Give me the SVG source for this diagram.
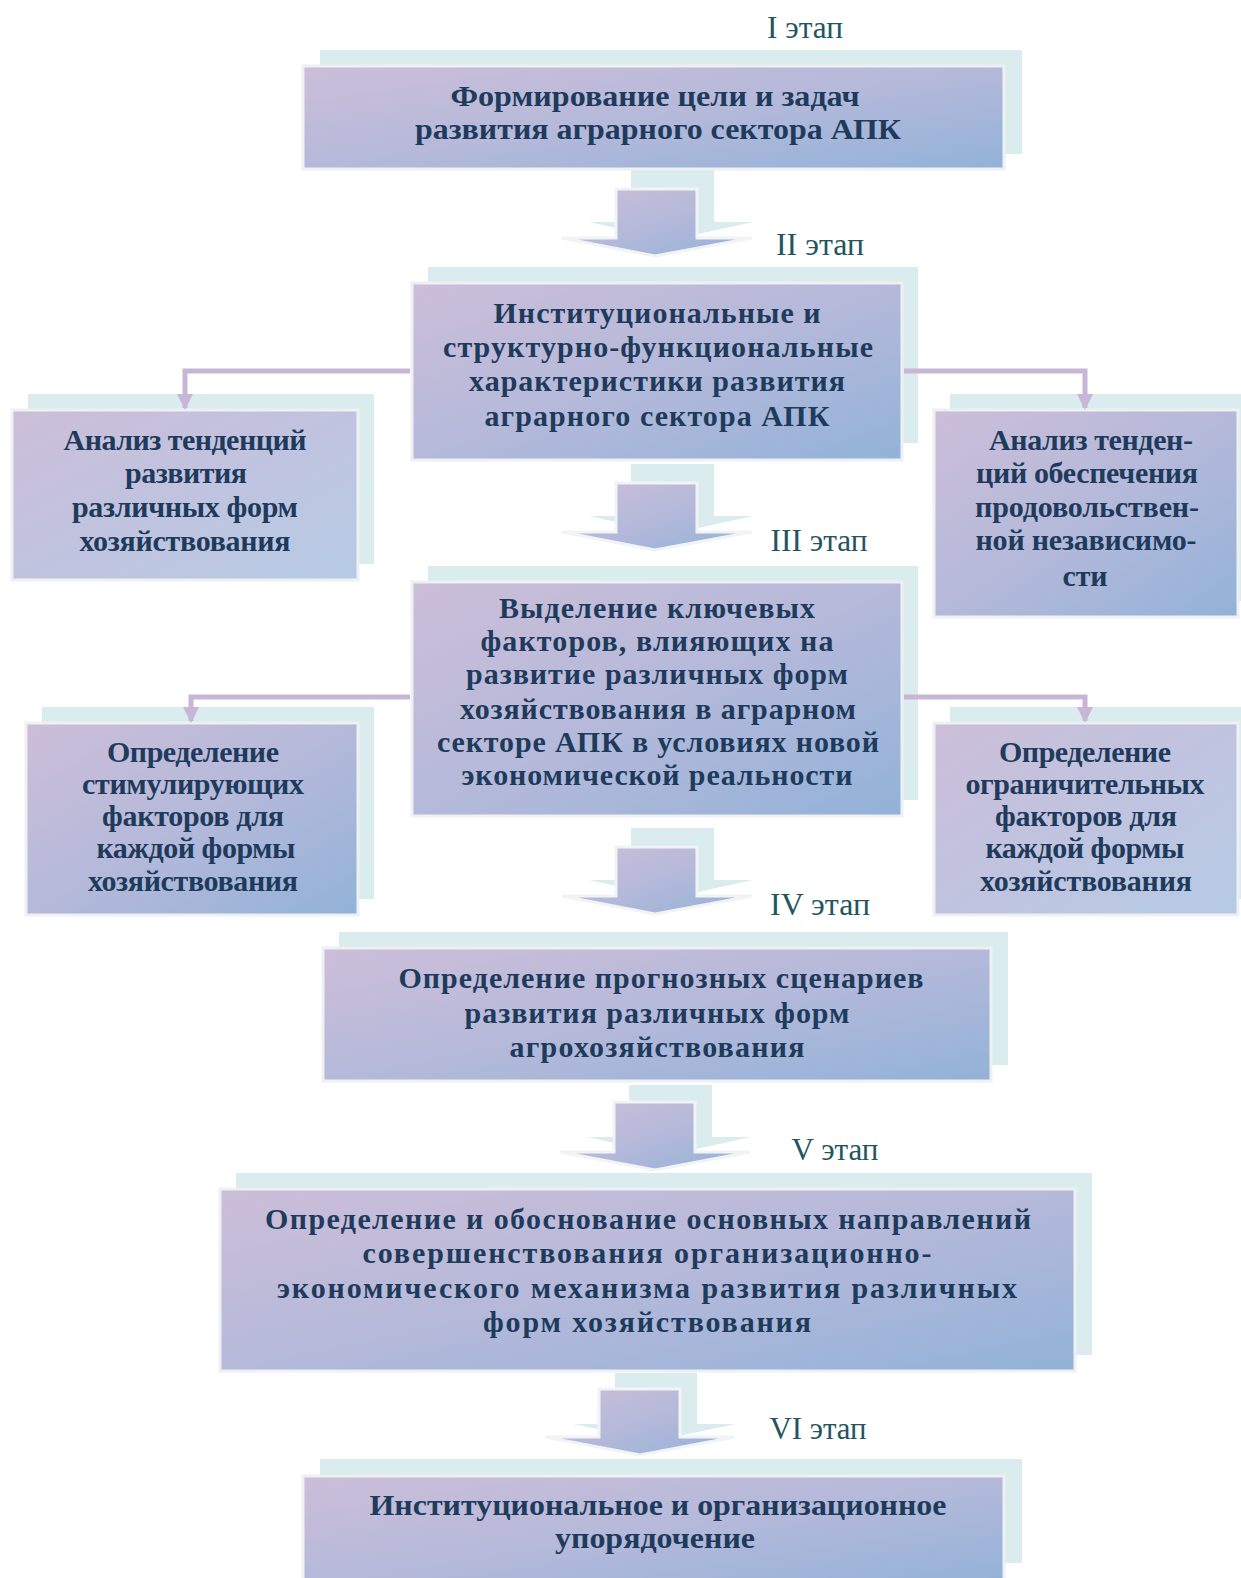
<svg xmlns="http://www.w3.org/2000/svg" width="1241" height="1578" viewBox="0 0 1241 1578">
<defs>
<linearGradient id="g" x1="0" y1="0" x2="1" y2="1">
<stop offset="0" stop-color="#ccbed9"/>
<stop offset="0.5" stop-color="#b5b9da"/>
<stop offset="1" stop-color="#92b2d8"/>
</linearGradient>
<linearGradient id="g2" x1="0" y1="0" x2="1" y2="1">
<stop offset="0" stop-color="#ccbed9"/>
<stop offset="0.5" stop-color="#c0c3df"/>
<stop offset="1" stop-color="#b6cbe4"/>
</linearGradient>
<marker id="ah" markerWidth="16" markerHeight="16" refX="14" refY="8" orient="auto" markerUnits="userSpaceOnUse" viewBox="0 0 16 16">
<path d="M0,0 L16,8 L0,16 Z" fill="#c8b6d6"/>
</marker>
</defs>
<style>
.sh{fill:#dbecef}
.bx{fill:url(#g);stroke:#eef0f2;stroke-width:3}
.bx2{fill:url(#g2);stroke:#eef0f2;stroke-width:3}
.ar{fill:url(#g);stroke:#f2f3f5;stroke-width:3;stroke-linejoin:miter}
.t{font-family:"Liberation Serif","Times New Roman",serif;font-weight:bold;font-size:30px;fill:#1f3b5c;text-anchor:middle}
.st{font-family:"Liberation Serif","Times New Roman",serif;font-size:32px;fill:#23555f;text-anchor:middle}
.cn{fill:none;stroke:#c8b6d6;stroke-width:5}
</style>

<g id="labels">
<text class="st" x="805" y="38" textLength="76" lengthAdjust="spacingAndGlyphs">I этап</text>
<text class="st" x="820" y="255" textLength="88" lengthAdjust="spacingAndGlyphs">II этап</text>
<text class="st" x="819" y="551" textLength="97" lengthAdjust="spacingAndGlyphs">III этап</text>
<text class="st" x="820" y="915" textLength="100" lengthAdjust="spacingAndGlyphs">IV этап</text>
<text class="st" x="835" y="1160" textLength="87" lengthAdjust="spacingAndGlyphs">V этап</text>
<text class="st" x="818" y="1439" textLength="97" lengthAdjust="spacingAndGlyphs">VI этап</text>
</g>

<g id="arrows">
<g id="arrow1">
<path class="sh" d="M631,170 H714 V222 H753 L671,240 L589,222 H631 Z"/>
<path class="ar" d="M616,189 H697 V238 H752 L655,256 L562,238 H616 Z"/>
</g>
<g id="arrow2">
<path class="sh" d="M631,464 H714 V516 H753 L671,534 L589,516 H631 Z"/>
<path class="ar" d="M616,483 H697 V532 H752 L655,550 L562,532 H616 Z"/>
</g>
<g id="arrow3">
<path class="sh" d="M631,828 H714 V880 H753 L671,898 L589,880 H631 Z"/>
<path class="ar" d="M616,847 H697 V896 H752 L655,914 L562,896 H616 Z"/>
</g>
<g id="arrow4">
<path class="sh" d="M629,1085 H712 V1137 H751 L669,1155 L587,1137 H629 Z"/>
<path class="ar" d="M614,1102 H695 V1152 H750 L655,1170 L560,1152 H614 Z"/>
</g>
<g id="arrow5">
<path class="sh" d="M615,1373 H697 V1424 H736 L655,1441 L573,1424 H615 Z"/>
<path class="ar" d="M599,1389 H680 V1437 H735 L640,1455 L545,1437 H599 Z"/>
</g>
</g>

<g id="n1">
<rect class="sh" x="320" y="50" width="702" height="104"/>
<rect class="bx" x="303" y="66" width="701" height="103"/>
<text class="t" x="655" y="106" textLength="409" lengthAdjust="spacingAndGlyphs">Формирование цели и задач</text>
<text class="t" x="658" y="139" textLength="486" lengthAdjust="spacingAndGlyphs">развития аграрного сектора АПК</text>
</g>

<g id="n2">
<rect class="sh" x="428" y="267" width="490" height="176"/>
<rect class="bx" x="412" y="283" width="490" height="177"/>
<text class="t" x="657" y="323" textLength="327" lengthAdjust="spacing">Институциональные и</text>
<text class="t" x="658" y="357" textLength="430" lengthAdjust="spacing">структурно-функциональные</text>
<text class="t" x="657" y="391" textLength="376" lengthAdjust="spacing">характеристики развития</text>
<text class="t" x="657" y="426" textLength="345" lengthAdjust="spacing">аграрного сектора АПК</text>
</g>

<g id="nA">
<rect class="sh" x="28" y="394" width="346" height="170"/>
<rect class="bx2" x="12" y="410" width="346" height="170"/>
<text class="t" x="185" y="450" textLength="243" lengthAdjust="spacing">Анализ тенденций</text>
<text class="t" x="186" y="483" textLength="122" lengthAdjust="spacing">развития</text>
<text class="t" x="185" y="517" textLength="226" lengthAdjust="spacing">различных форм</text>
<text class="t" x="185" y="551" textLength="211" lengthAdjust="spacing">хозяйствования</text>
</g>

<g id="nB">
<rect class="sh" x="950" y="394" width="300" height="207"/>
<rect class="bx" x="934" y="410" width="304" height="207"/>
<text class="t" x="1091" y="450" textLength="204" lengthAdjust="spacing">Анализ тенден-</text>
<text class="t" x="1087" y="483" textLength="222" lengthAdjust="spacing">ций обеспечения</text>
<text class="t" x="1087" y="517" textLength="224" lengthAdjust="spacing">продовольствен-</text>
<text class="t" x="1086" y="550" textLength="221" lengthAdjust="spacing">ной независимо-</text>
<text class="t" x="1085" y="586" textLength="45" lengthAdjust="spacing">сти</text>
</g>

<g id="n3">
<rect class="sh" x="428" y="566" width="490" height="234"/>
<rect class="bx" x="412" y="582" width="490" height="234"/>
<text class="t" x="657" y="618" textLength="316" lengthAdjust="spacing">Выделение ключевых</text>
<text class="t" x="657" y="651" textLength="353" lengthAdjust="spacing">факторов, влияющих на</text>
<text class="t" x="657" y="684" textLength="382" lengthAdjust="spacing">развитие различных форм</text>
<text class="t" x="658" y="719" textLength="396" lengthAdjust="spacing">хозяйствования в аграрном</text>
<text class="t" x="658" y="752" textLength="442" lengthAdjust="spacing">секторе АПК в условиях новой</text>
<text class="t" x="657" y="785" textLength="391" lengthAdjust="spacing">экономической реальности</text>
</g>

<g id="nC">
<rect class="sh" x="42" y="707" width="332" height="192"/>
<rect class="bx" x="26" y="723" width="332" height="192"/>
<text class="t" x="193" y="762" textLength="172" lengthAdjust="spacing">Определение</text>
<text class="t" x="193" y="794" textLength="222" lengthAdjust="spacing">стимулирующих</text>
<text class="t" x="193" y="826" textLength="182" lengthAdjust="spacing">факторов для</text>
<text class="t" x="196" y="858" textLength="199" lengthAdjust="spacing">каждой формы</text>
<text class="t" x="193" y="891" textLength="210" lengthAdjust="spacing">хозяйствования</text>
</g>

<g id="nD">
<rect class="sh" x="950" y="707" width="300" height="192"/>
<rect class="bx2" x="934" y="723" width="304" height="192"/>
<text class="t" x="1085" y="762" textLength="172" lengthAdjust="spacing">Определение</text>
<text class="t" x="1085" y="794" textLength="239" lengthAdjust="spacing">ограничительных</text>
<text class="t" x="1086" y="826" textLength="182" lengthAdjust="spacing">факторов для</text>
<text class="t" x="1085" y="858" textLength="199" lengthAdjust="spacing">каждой формы</text>
<text class="t" x="1086" y="891" textLength="212" lengthAdjust="spacing">хозяйствования</text>
</g>

<g id="n4">
<rect class="sh" x="339" y="932" width="669" height="133"/>
<rect class="bx" x="323" y="948" width="668" height="133"/>
<text class="t" x="661" y="988" textLength="525" lengthAdjust="spacing">Определение прогнозных сценариев</text>
<text class="t" x="657" y="1023" textLength="385" lengthAdjust="spacing">развития различных форм</text>
<text class="t" x="657" y="1057" textLength="295" lengthAdjust="spacing">агрохозяйствования</text>
</g>

<g id="n5">
<rect class="sh" x="236" y="1173" width="856" height="182"/>
<rect class="bx" x="220" y="1189" width="855" height="182"/>
<text class="t" x="648" y="1229" textLength="766" lengthAdjust="spacing">Определение и обоснование основных направлений</text>
<text class="t" x="647" y="1263" textLength="569" lengthAdjust="spacing">совершенствования организационно-</text>
<text class="t" x="647" y="1298" textLength="740" lengthAdjust="spacing">экономического механизма развития различных</text>
<text class="t" x="647" y="1332" textLength="328" lengthAdjust="spacing">форм хозяйствования</text>
</g>

<g id="n6">
<rect class="sh" x="320" y="1459" width="702" height="104"/>
<rect class="bx" x="303" y="1476" width="701" height="110"/>
<text class="t" x="658" y="1515" textLength="577" lengthAdjust="spacingAndGlyphs">Институциональное и организационное</text>
<text class="t" x="655" y="1548" textLength="200" lengthAdjust="spacingAndGlyphs">упорядочение</text>
</g>

<g id="connectors">
<path class="cn" d="M410,371 H185 V408" marker-end="url(#ah)"/>
<path class="cn" d="M904,371 H1085 V408" marker-end="url(#ah)"/>
<path class="cn" d="M410,697 H191 V721" marker-end="url(#ah)"/>
<path class="cn" d="M904,697 H1085 V721" marker-end="url(#ah)"/>
</g>
</svg>
